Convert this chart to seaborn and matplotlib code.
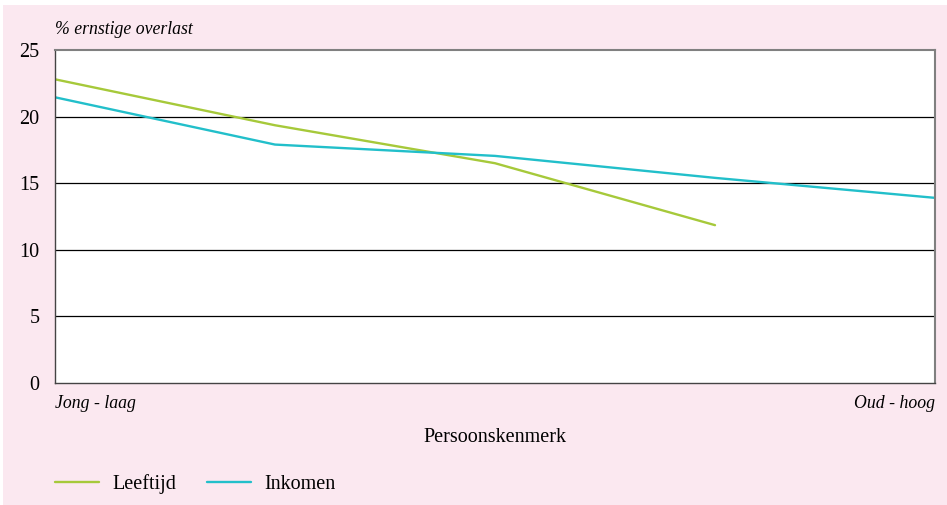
import pandas as pd
import matplotlib.pyplot as plt
import seaborn as sns
from matplotlib.patches import Rectangle

# data
positie_leeftijd = [0, 1, 2, 3]
waarde_leeftijd = [22.8, 19.35, 16.5, 11.85]
positie_inkomen = [0, 1, 2, 3, 4]
waarde_inkomen = [21.45, 17.9, 17.05, 15.4, 13.9]
reeksen = ['Leeftijd', 'Inkomen']
kleuren = {'Leeftijd': '#a6c93a', 'Inkomen': '#22bfca'}
x_labels = ['Jong - laag', 'Oud - hoog']

df = pd.concat([
    pd.DataFrame({'x': positie_leeftijd, 'y': waarde_leeftijd, 'reeks': 'Leeftijd'}),
    pd.DataFrame({'x': positie_inkomen, 'y': waarde_inkomen, 'reeks': 'Inkomen'}),
])

sns.set_theme(style='white')
plt.rcParams['font.family'] = ['Liberation Serif', 'DejaVu Serif']
plt.rcParams['text.color'] = 'black'

fs = 14.5      # rechte tekst
fs_it = 12.8   # cursieve tekst

roze = '#fbe8f0'
fig = plt.figure(figsize=(9.47, 5.05), dpi=100, facecolor='white')
fig.patches.append(Rectangle((3 / 947, 0), 1, 1 - 5 / 505, transform=fig.transFigure,
                             facecolor=roze, edgecolor='none', zorder=-10))
ax = fig.add_axes([55 / 947, 122 / 505, 880 / 947, 333 / 505])
ax.set_facecolor('white')

sns.lineplot(data=df, x='x', y='y', hue='reeks', hue_order=reeksen, palette=kleuren,
             linewidth=1.7, ax=ax, legend=False)

ax.set_xlim(0, 4)
ax.set_ylim(0, 25)
ax.set_yticks([0, 5, 10, 15, 20, 25])
for v in [5, 10, 15, 20]:
    ax.axhline(v, color='black', linewidth=0.9, zorder=0)

ax.set_xticks([0, 4])
ax.set_xticklabels(x_labels, fontstyle='italic', fontsize=fs_it, color='black')
ax.get_xticklabels()[0].set_ha('left')
ax.get_xticklabels()[1].set_ha('right')
ax.tick_params(axis='x', length=0, pad=9)
ax.tick_params(axis='y', length=0, pad=11, labelsize=fs, labelcolor='black')
ax.set_xlabel('Persoonskenmerk', fontsize=fs, labelpad=11, color='black')
ax.set_ylabel('')

for kant in ['top', 'right']:
    ax.spines[kant].set_color('#808080')
    ax.spines[kant].set_linewidth(1.5)
for kant in ['left', 'bottom']:
    ax.spines[kant].set_color('#444444')
    ax.spines[kant].set_linewidth(1.0)

fig.text(55 / 947, 1 - 29 / 505, '% ernstige overlast', fontstyle='italic', fontsize=fs_it,
         ha='left', va='center', color='black')

handles = [plt.Line2D([], [], color=kleuren[r], linewidth=1.7) for r in reeksen]
fig.legend(handles, reeksen, loc='center left', bbox_to_anchor=(37 / 947, 1 - 484 / 505),
           ncol=2, frameon=False, fontsize=fs, handlelength=2.2, handletextpad=0.65,
           columnspacing=1.5, labelcolor='black')

fig.savefig('out.png', dpi=100, facecolor=fig.get_facecolor())
